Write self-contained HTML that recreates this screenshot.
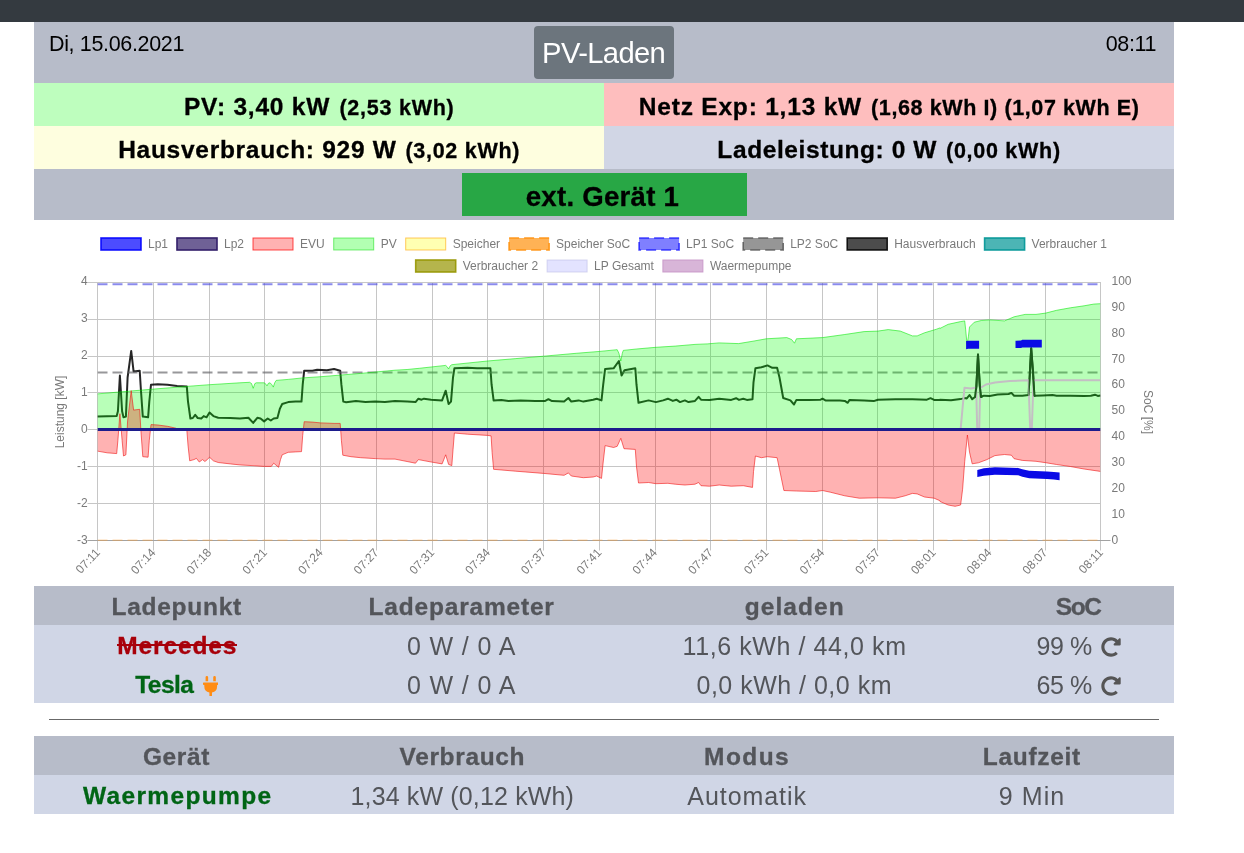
<!DOCTYPE html>
<html lang="de">
<head>
<meta charset="utf-8">
<title>openWB</title>
<style>
html,body{margin:0;padding:0;background:#fff;}
body{width:1244px;height:853px;position:relative;overflow:hidden;font-family:"Liberation Sans",sans-serif;color:#000;}
.abs{position:absolute;}
.band{position:absolute;left:34px;width:1140px;}
#topbar{left:0;top:0;width:1244px;height:22px;background:#343a40;}
.g1{background:#b7bcc9;}
.g2{background:#d0d6e6;}
.t{position:absolute;white-space:pre;line-height:1;}
</style>
</head>
<body>
<div id="topbar" class="abs"></div>
<div class="band g1" style="top:22px;height:61px;"></div>
<div class="abs" style="left:534px;top:26px;width:140px;height:53px;background:#6c757d;border-radius:4px;"></div>
<div class="abs" style="left:34px;top:83px;width:570px;height:43px;background:#befebe;"></div>
<div class="abs" style="left:604px;top:83px;width:570px;height:43px;background:#febebe;"></div>
<div class="abs" style="left:34px;top:126px;width:570px;height:43px;background:#fefedf;"></div>
<div class="abs" style="left:604px;top:126px;width:570px;height:43px;background:#d1d6e5;"></div>
<div class="band g1" style="top:169px;height:51px;"></div>
<div class="abs" style="left:462px;top:173px;width:285px;height:43px;background:#28a745;"></div>
<svg class="abs" style="left:0;top:220px" width="1244" height="366" viewBox="0 220 1244 366" font-family="Liberation Sans, sans-serif" font-size="12" fill="#7a7a7a">
<rect x="101.0" y="238.0" width="40" height="12" fill="rgba(0,0,255,0.7)" stroke="rgba(0,0,255,0.9)" stroke-width="1.6"/>
<text x="148.0" y="248.0">Lp1</text>
<rect x="177.0" y="238.0" width="40" height="12" fill="rgba(50,30,105,0.7)" stroke="rgba(50,30,105,1)" stroke-width="1.6"/>
<text x="224.0" y="248.0">Lp2</text>
<rect x="253.0" y="238.0" width="40" height="12" fill="rgba(255,0,0,0.3)" stroke="rgba(255,0,0,0.7)" stroke-width="1"/>
<text x="300.0" y="248.0">EVU</text>
<rect x="333.7" y="238.0" width="40" height="12" fill="rgba(0,255,0,0.3)" stroke="rgba(0,220,0,0.5)" stroke-width="1"/>
<text x="380.7" y="248.0">PV</text>
<rect x="405.7" y="238.0" width="40" height="12" fill="rgba(255,255,0,0.3)" stroke="rgba(255,165,0,0.6)" stroke-width="1"/>
<text x="452.7" y="248.0">Speicher</text>
<rect x="509.1" y="238.0" width="40" height="12" fill="rgba(255,145,13,0.7)" stroke="rgba(255,145,13,0.9)" stroke-width="1.6" stroke-dasharray="10,5"/>
<text x="556.1" y="248.0">Speicher SoC</text>
<rect x="639.1" y="238.0" width="40" height="12" fill="rgba(0,0,255,0.5)" stroke="rgba(0,0,255,0.7)" stroke-width="1.6" stroke-dasharray="10,5"/>
<text x="686.1" y="248.0">LP1 SoC</text>
<rect x="743.2" y="238.0" width="40" height="12" fill="rgba(80,80,80,0.6)" stroke="rgba(80,80,80,0.8)" stroke-width="1.6" stroke-dasharray="10,5"/>
<text x="790.2" y="248.0">LP2 SoC</text>
<rect x="847.2" y="238.0" width="40" height="12" fill="rgba(0,0,0,0.7)" stroke="rgba(0,0,0,0.85)" stroke-width="1.6"/>
<text x="894.2" y="248.0">Hausverbrauch</text>
<rect x="984.6" y="238.0" width="40" height="12" fill="rgba(0,150,150,0.7)" stroke="rgba(0,150,150,0.9)" stroke-width="1.6"/>
<text x="1031.6" y="248.0">Verbraucher 1</text>
<rect x="415.7" y="260.0" width="40" height="12" fill="rgba(150,150,0,0.7)" stroke="rgba(150,150,0,0.9)" stroke-width="1.6"/>
<text x="462.7" y="270.0">Verbraucher 2</text>
<rect x="547.1" y="260.0" width="40" height="12" fill="rgba(200,200,255,0.5)" stroke="rgba(190,190,230,0.6)" stroke-width="1"/>
<text x="594.1" y="270.0">LP Gesamt</text>
<rect x="662.9" y="260.0" width="40" height="12" fill="rgba(200,150,200,0.7)" stroke="rgba(200,150,200,0.9)" stroke-width="1"/>
<text x="709.9" y="270.0">Waermepumpe</text>
<path d="M97.5,282.0 V550.5 M153.5,282.0 V550.5 M209.5,282.0 V550.5 M264.5,282.0 V550.5 M320.5,282.0 V550.5 M376.5,282.0 V550.5 M432.5,282.0 V550.5 M487.5,282.0 V550.5 M543.5,282.0 V550.5 M599.5,282.0 V550.5 M655.5,282.0 V550.5 M710.5,282.0 V550.5 M766.5,282.0 V550.5 M822.5,282.0 V550.5 M877.5,282.0 V550.5 M933.5,282.0 V550.5 M989.5,282.0 V550.5 M1045.5,282.0 V550.5 M1100.5,282.0 V550.5 M87.5,282.5 H1101.0 M87.5,319.5 H1101.0 M87.5,356.5 H1101.0 M87.5,392.5 H1101.0 M87.5,429.5 H1101.0 M87.5,466.5 H1101.0 M87.5,503.5 H1101.0 M87.5,540.5 H1101.0" stroke="#c6c6c6" stroke-width="1" fill="none"/>
<path d="M87.5,540.5 H1110.5" stroke="#a2a2a2" stroke-width="1" fill="none"/>
<clipPath id="cp"><rect x="97.5" y="281.5" width="1003.0" height="260.0"/></clipPath>
<g clip-path="url(#cp)" fill="none" stroke-linejoin="round">
<path d="M97.4,416.6 L116.7,416.1 L117.9,411.3 L119.9,375.5 L122.1,411.3 L123.5,417.3 L125.9,416.6 L127.6,377.5 L131.2,350.9 L133.6,371.4 L139.7,370.7 L140.9,389.5 L142.8,416.6 L148.1,417.3 L149.3,401.6 L151.0,384.7 L157.8,384.2 L167.5,384.7 L177.1,385.9 L186.8,386.4 L188.0,401.6 L190.4,418.5 L192.8,418.0 L195.2,414.9 L197.7,418.0 L201.3,418.5 L203.7,416.1 L206.6,417.3 L209.5,412.5 L213.4,416.1 L218.2,417.8 L230.3,418.0 L239.9,418.5 L248.4,417.8 L253.2,422.9 L257.3,417.8 L260.5,418.5 L264.1,421.4 L267.7,418.5 L270.8,420.5 L273.7,418.5 L277.4,418.0 L279.8,408.9 L282.2,404.0 L288.2,402.1 L295.5,401.6 L301.5,401.6 L302.7,384.7 L304.2,370.7 L312.4,370.7 L317.2,369.7 L326.9,370.2 L334.1,369.0 L340.2,370.7 L341.4,384.7 L343.3,401.6 L346.2,402.3 L355.9,401.1 L365.5,402.1 L375.2,401.6 L384.9,402.1 L395.0,400.9 L407.1,401.6 L415.5,402.1 L418.4,398.7 L421.6,399.7 L424.0,398.7 L431.2,399.7 L442.1,400.4 L445.7,390.7 L448.6,404.0 L451.0,401.6 L453.0,377.5 L454.4,368.3 L467.5,367.8 L477.1,368.3 L490.4,368.3 L491.6,384.7 L493.6,400.4 L501.3,399.9 L508.5,401.1 L520.6,400.4 L535.1,400.9 L544.8,401.1 L548.4,399.2 L552.0,401.1 L564.1,401.6 L568.4,398.0 L571.3,401.6 L578.6,400.4 L583.4,401.6 L593.1,399.7 L596.7,398.7 L601.5,400.4 L603.2,384.7 L605.1,369.0 L613.6,368.3 L618.9,361.0 L621.6,375.5 L624.5,370.2 L635.3,368.3 L636.5,384.7 L638.5,402.8 L648.6,400.4 L655.9,402.1 L663.1,400.4 L667.9,398.7 L672.8,400.9 L676.4,399.7 L680.0,402.1 L684.9,400.4 L688.5,402.1 L695.0,400.9 L698.6,396.8 L701.0,399.7 L709.5,399.9 L719.2,398.7 L731.2,399.9 L736.1,398.2 L739.0,399.9 L743.3,398.7 L746.9,399.9 L752.5,399.2 L753.5,382.3 L755.4,368.3 L761.4,367.3 L767.5,365.4 L772.3,367.8 L777.1,367.8 L779.5,377.5 L783.2,398.0 L790.4,400.4 L794.0,404.5 L796.4,399.9 L808.5,399.9 L820.6,399.7 L822.5,398.7 L825.4,400.4 L839.9,400.4 L844.8,400.9 L847.7,402.8 L849.6,399.9 L864.1,400.4 L873.7,401.1 L877.9,399.7 L895.5,399.2 L912.4,399.2 L926.9,399.7 L930.5,398.2 L934.1,399.9 L939.9,399.9 L940.0,399.8 L951.0,400.2 L960.6,399.1 L964.7,398.1 L966.8,398.4 L969.5,395.0 L972.2,399.1 L975.0,397.0 L976.4,386.0 L978.0,354.5 L979.8,386.0 L980.9,397.0 L983.9,395.7 L989.7,395.9 L997.6,394.6 L1008.6,394.0 L1011.4,392.9 L1014.1,395.7 L1022.3,395.7 L1028.5,395.0 L1029.9,372.3 L1031.2,348.3 L1033.0,372.3 L1034.4,395.7 L1042.9,395.4 L1052.5,395.0 L1056.6,395.7 L1070.4,395.7 L1084.1,395.9 L1090.9,395.7 L1095.0,394.7 L1097.8,395.9 L1100.5,395.4" stroke="rgba(0,0,0,0.85)" stroke-width="2"/>
<path d="M97.5,372.4 H1100.5" stroke="rgba(95,95,100,0.65)" stroke-width="2" stroke-dasharray="10,5"/>
<path d="M97.5,284.3 H1100.5" stroke="rgba(60,60,225,0.6)" stroke-width="2" stroke-dasharray="10,5"/>
<path d="M97.5,540.2 H1100.5" stroke="rgba(250,160,60,0.4)" stroke-width="1.6" stroke-dasharray="10,5"/>
<path d="M97.4,393.9 L119.2,392.0 L153.5,389.1 L186.8,386.4 L209.5,384.7 L239.9,382.8 L249.6,382.3 L251.5,383.5 L253.2,388.3 L254.9,383.5 L256.4,382.8 L264.1,382.8 L265.5,383.7 L267.0,385.9 L268.4,383.3 L270.1,382.8 L271.8,384.7 L273.3,387.1 L274.7,382.8 L276.2,380.4 L288.2,379.4 L302.7,377.9 L320.8,376.7 L341.4,375.0 L360.7,373.4 L376.6,371.9 L395.0,370.2 L407.1,369.5 L419.2,368.3 L445.7,365.4 L447.2,366.8 L448.6,369.0 L450.1,365.9 L451.8,364.7 L487.5,361.0 L515.8,358.6 L543.6,356.2 L576.2,353.3 L599.8,351.4 L617.2,349.7 L618.9,353.3 L620.8,361.0 L622.3,353.3 L623.3,350.4 L636.5,349.0 L655.9,347.3 L675.2,346.1 L695.0,344.4 L707.1,343.9 L719.2,342.9 L738.5,343.6 L753.0,341.2 L766.3,338.8 L786.8,337.6 L791.6,339.5 L794.5,343.2 L796.4,338.8 L822.5,337.6 L844.8,334.5 L864.1,331.6 L877.9,331.1 L888.2,329.6 L900.3,331.1 L912.4,335.9 L917.2,335.9 L924.5,332.8 L936.5,329.2 L939.9,327.9 L940.0,328.4 L948.2,324.3 L960.6,321.6 L964.7,320.9 L965.7,329.8 L967.0,344.2 L968.4,336.7 L969.5,327.0 L974.3,322.2 L981.2,320.5 L989.7,319.9 L1004.5,320.9 L1014.1,316.8 L1025.1,314.4 L1036.0,314.4 L1045.7,313.1 L1056.6,310.3 L1070.4,307.8 L1084.1,305.8 L1093.7,304.1 L1100.5,303.7 L1100.5,429.5 L97.4,429.5 Z" fill="rgba(0,255,0,0.28)" stroke="none"/>
<path d="M97.4,393.9 L119.2,392.0 L153.5,389.1 L186.8,386.4 L209.5,384.7 L239.9,382.8 L249.6,382.3 L251.5,383.5 L253.2,388.3 L254.9,383.5 L256.4,382.8 L264.1,382.8 L265.5,383.7 L267.0,385.9 L268.4,383.3 L270.1,382.8 L271.8,384.7 L273.3,387.1 L274.7,382.8 L276.2,380.4 L288.2,379.4 L302.7,377.9 L320.8,376.7 L341.4,375.0 L360.7,373.4 L376.6,371.9 L395.0,370.2 L407.1,369.5 L419.2,368.3 L445.7,365.4 L447.2,366.8 L448.6,369.0 L450.1,365.9 L451.8,364.7 L487.5,361.0 L515.8,358.6 L543.6,356.2 L576.2,353.3 L599.8,351.4 L617.2,349.7 L618.9,353.3 L620.8,361.0 L622.3,353.3 L623.3,350.4 L636.5,349.0 L655.9,347.3 L675.2,346.1 L695.0,344.4 L707.1,343.9 L719.2,342.9 L738.5,343.6 L753.0,341.2 L766.3,338.8 L786.8,337.6 L791.6,339.5 L794.5,343.2 L796.4,338.8 L822.5,337.6 L844.8,334.5 L864.1,331.6 L877.9,331.1 L888.2,329.6 L900.3,331.1 L912.4,335.9 L917.2,335.9 L924.5,332.8 L936.5,329.2 L939.9,327.9 L940.0,328.4 L948.2,324.3 L960.6,321.6 L964.7,320.9 L965.7,329.8 L967.0,344.2 L968.4,336.7 L969.5,327.0 L974.3,322.2 L981.2,320.5 L989.7,319.9 L1004.5,320.9 L1014.1,316.8 L1025.1,314.4 L1036.0,314.4 L1045.7,313.1 L1056.6,310.3 L1070.4,307.8 L1084.1,305.8 L1093.7,304.1 L1100.5,303.7" stroke="rgba(0,230,0,0.55)" stroke-width="1"/>
<path d="M97.5,429.5 L960.6,429.5 L963.3,400.0 L964.5,387.7 L971.0,388.5 L976.2,387.5 L977.2,429.5 L979.2,429.5 L980.2,388.0 L986.0,384.5 L995.0,382.5 L1010.0,381.0 L1028.5,380.3 L1030.2,429.5 L1031.8,429.5 L1033.5,380.3 L1100.5,380.3" stroke="#c4bec4" stroke-width="2"/>
<clipPath id="sp"><rect x="975" y="340" width="7.5" height="60"/><rect x="1028.5" y="340" width="7" height="60"/></clipPath>
<path clip-path="url(#sp)" d="M97.4,416.6 L116.7,416.1 L117.9,411.3 L119.9,375.5 L122.1,411.3 L123.5,417.3 L125.9,416.6 L127.6,377.5 L131.2,350.9 L133.6,371.4 L139.7,370.7 L140.9,389.5 L142.8,416.6 L148.1,417.3 L149.3,401.6 L151.0,384.7 L157.8,384.2 L167.5,384.7 L177.1,385.9 L186.8,386.4 L188.0,401.6 L190.4,418.5 L192.8,418.0 L195.2,414.9 L197.7,418.0 L201.3,418.5 L203.7,416.1 L206.6,417.3 L209.5,412.5 L213.4,416.1 L218.2,417.8 L230.3,418.0 L239.9,418.5 L248.4,417.8 L253.2,422.9 L257.3,417.8 L260.5,418.5 L264.1,421.4 L267.7,418.5 L270.8,420.5 L273.7,418.5 L277.4,418.0 L279.8,408.9 L282.2,404.0 L288.2,402.1 L295.5,401.6 L301.5,401.6 L302.7,384.7 L304.2,370.7 L312.4,370.7 L317.2,369.7 L326.9,370.2 L334.1,369.0 L340.2,370.7 L341.4,384.7 L343.3,401.6 L346.2,402.3 L355.9,401.1 L365.5,402.1 L375.2,401.6 L384.9,402.1 L395.0,400.9 L407.1,401.6 L415.5,402.1 L418.4,398.7 L421.6,399.7 L424.0,398.7 L431.2,399.7 L442.1,400.4 L445.7,390.7 L448.6,404.0 L451.0,401.6 L453.0,377.5 L454.4,368.3 L467.5,367.8 L477.1,368.3 L490.4,368.3 L491.6,384.7 L493.6,400.4 L501.3,399.9 L508.5,401.1 L520.6,400.4 L535.1,400.9 L544.8,401.1 L548.4,399.2 L552.0,401.1 L564.1,401.6 L568.4,398.0 L571.3,401.6 L578.6,400.4 L583.4,401.6 L593.1,399.7 L596.7,398.7 L601.5,400.4 L603.2,384.7 L605.1,369.0 L613.6,368.3 L618.9,361.0 L621.6,375.5 L624.5,370.2 L635.3,368.3 L636.5,384.7 L638.5,402.8 L648.6,400.4 L655.9,402.1 L663.1,400.4 L667.9,398.7 L672.8,400.9 L676.4,399.7 L680.0,402.1 L684.9,400.4 L688.5,402.1 L695.0,400.9 L698.6,396.8 L701.0,399.7 L709.5,399.9 L719.2,398.7 L731.2,399.9 L736.1,398.2 L739.0,399.9 L743.3,398.7 L746.9,399.9 L752.5,399.2 L753.5,382.3 L755.4,368.3 L761.4,367.3 L767.5,365.4 L772.3,367.8 L777.1,367.8 L779.5,377.5 L783.2,398.0 L790.4,400.4 L794.0,404.5 L796.4,399.9 L808.5,399.9 L820.6,399.7 L822.5,398.7 L825.4,400.4 L839.9,400.4 L844.8,400.9 L847.7,402.8 L849.6,399.9 L864.1,400.4 L873.7,401.1 L877.9,399.7 L895.5,399.2 L912.4,399.2 L926.9,399.7 L930.5,398.2 L934.1,399.9 L939.9,399.9 L940.0,399.8 L951.0,400.2 L960.6,399.1 L964.7,398.1 L966.8,398.4 L969.5,395.0 L972.2,399.1 L975.0,397.0 L976.4,386.0 L978.0,354.5 L979.8,386.0 L980.9,397.0 L983.9,395.7 L989.7,395.9 L997.6,394.6 L1008.6,394.0 L1011.4,392.9 L1014.1,395.7 L1022.3,395.7 L1028.5,395.0 L1029.9,372.3 L1031.2,348.3 L1033.0,372.3 L1034.4,395.7 L1042.9,395.4 L1052.5,395.0 L1056.6,395.7 L1070.4,395.7 L1084.1,395.9 L1090.9,395.7 L1095.0,394.7 L1097.8,395.9 L1100.5,395.4" stroke="#1c5c1c" stroke-width="2"/>
<path d="M97.4,451.1 L107.1,452.8 L116.7,453.6 L117.9,440.3 L119.9,413.7 L122.1,440.3 L123.5,456.0 L125.9,454.8 L127.6,420.9 L131.2,390.7 L133.6,410.1 L139.7,409.3 L140.9,430.6 L142.8,456.7 L148.1,457.2 L149.3,440.3 L151.0,424.6 L157.8,425.0 L167.5,426.3 L175.9,428.2 L178.3,429.4 L186.8,429.6 L188.0,445.1 L189.7,460.8 L194.0,459.6 L196.4,458.4 L199.3,462.0 L202.5,459.6 L204.9,461.5 L207.3,459.6 L209.5,457.2 L213.4,460.8 L218.2,462.5 L230.3,463.9 L239.9,464.9 L252.0,465.6 L264.1,466.4 L271.3,466.4 L273.7,463.2 L278.6,467.3 L280.5,459.6 L282.2,454.8 L288.2,452.3 L295.5,451.9 L301.5,451.6 L302.7,435.4 L304.2,421.7 L312.4,422.1 L320.8,422.9 L334.1,423.4 L340.2,423.4 L341.4,440.3 L342.8,455.2 L351.0,456.7 L360.7,457.7 L375.2,458.6 L384.9,459.1 L395.0,459.1 L407.1,461.5 L415.5,463.2 L418.4,459.6 L431.2,462.0 L442.1,463.9 L445.7,454.8 L448.6,464.4 L451.8,465.6 L453.0,449.9 L454.4,433.0 L467.5,434.2 L487.5,435.4 L491.1,435.9 L492.1,452.3 L493.6,469.3 L515.8,471.2 L543.6,473.4 L564.1,475.3 L568.4,472.9 L571.3,476.0 L583.4,477.7 L593.1,477.0 L596.7,476.0 L601.5,478.4 L603.2,462.0 L605.1,445.6 L613.6,447.5 L617.2,446.3 L620.8,438.3 L624.0,448.7 L635.3,449.4 L636.5,466.8 L638.5,483.0 L648.6,482.5 L655.9,483.7 L667.9,483.3 L675.2,484.2 L684.9,485.0 L695.0,484.2 L698.6,482.5 L701.0,485.7 L709.5,486.2 L719.2,485.0 L731.2,486.2 L743.3,485.7 L752.5,487.4 L753.5,471.7 L755.4,456.0 L761.4,457.7 L767.5,456.7 L777.1,457.7 L779.5,469.3 L783.9,490.5 L796.4,491.0 L815.8,491.5 L822.5,490.5 L830.3,492.2 L844.8,495.8 L859.3,498.2 L877.9,497.8 L895.5,498.2 L905.1,495.8 L912.4,493.4 L917.2,493.9 L924.5,497.0 L934.1,498.2 L939.9,500.7 L940.0,501.5 L948.2,505.0 L955.1,506.3 L960.6,505.0 L962.6,489.2 L964.7,461.7 L967.4,435.0 L969.5,452.1 L972.2,463.8 L978.4,462.8 L986.7,459.7 L994.9,455.6 L1004.5,454.5 L1011.4,455.2 L1014.1,458.7 L1022.3,460.4 L1036.0,461.3 L1045.7,462.7 L1056.6,464.5 L1070.4,466.5 L1084.1,469.0 L1100.5,471.4 L1100.5,429.5 L97.4,429.5 Z" fill="rgba(255,0,0,0.3)" stroke="none"/>
<path d="M97.4,451.1 L107.1,452.8 L116.7,453.6 L117.9,440.3 L119.9,413.7 L122.1,440.3 L123.5,456.0 L125.9,454.8 L127.6,420.9 L131.2,390.7 L133.6,410.1 L139.7,409.3 L140.9,430.6 L142.8,456.7 L148.1,457.2 L149.3,440.3 L151.0,424.6 L157.8,425.0 L167.5,426.3 L175.9,428.2 L178.3,429.4 L186.8,429.6 L188.0,445.1 L189.7,460.8 L194.0,459.6 L196.4,458.4 L199.3,462.0 L202.5,459.6 L204.9,461.5 L207.3,459.6 L209.5,457.2 L213.4,460.8 L218.2,462.5 L230.3,463.9 L239.9,464.9 L252.0,465.6 L264.1,466.4 L271.3,466.4 L273.7,463.2 L278.6,467.3 L280.5,459.6 L282.2,454.8 L288.2,452.3 L295.5,451.9 L301.5,451.6 L302.7,435.4 L304.2,421.7 L312.4,422.1 L320.8,422.9 L334.1,423.4 L340.2,423.4 L341.4,440.3 L342.8,455.2 L351.0,456.7 L360.7,457.7 L375.2,458.6 L384.9,459.1 L395.0,459.1 L407.1,461.5 L415.5,463.2 L418.4,459.6 L431.2,462.0 L442.1,463.9 L445.7,454.8 L448.6,464.4 L451.8,465.6 L453.0,449.9 L454.4,433.0 L467.5,434.2 L487.5,435.4 L491.1,435.9 L492.1,452.3 L493.6,469.3 L515.8,471.2 L543.6,473.4 L564.1,475.3 L568.4,472.9 L571.3,476.0 L583.4,477.7 L593.1,477.0 L596.7,476.0 L601.5,478.4 L603.2,462.0 L605.1,445.6 L613.6,447.5 L617.2,446.3 L620.8,438.3 L624.0,448.7 L635.3,449.4 L636.5,466.8 L638.5,483.0 L648.6,482.5 L655.9,483.7 L667.9,483.3 L675.2,484.2 L684.9,485.0 L695.0,484.2 L698.6,482.5 L701.0,485.7 L709.5,486.2 L719.2,485.0 L731.2,486.2 L743.3,485.7 L752.5,487.4 L753.5,471.7 L755.4,456.0 L761.4,457.7 L767.5,456.7 L777.1,457.7 L779.5,469.3 L783.9,490.5 L796.4,491.0 L815.8,491.5 L822.5,490.5 L830.3,492.2 L844.8,495.8 L859.3,498.2 L877.9,497.8 L895.5,498.2 L905.1,495.8 L912.4,493.4 L917.2,493.9 L924.5,497.0 L934.1,498.2 L939.9,500.7 L940.0,501.5 L948.2,505.0 L955.1,506.3 L960.6,505.0 L962.6,489.2 L964.7,461.7 L967.4,435.0 L969.5,452.1 L972.2,463.8 L978.4,462.8 L986.7,459.7 L994.9,455.6 L1004.5,454.5 L1011.4,455.2 L1014.1,458.7 L1022.3,460.4 L1036.0,461.3 L1045.7,462.7 L1056.6,464.5 L1070.4,466.5 L1084.1,469.0 L1100.5,471.4" stroke="rgba(240,20,20,0.6)" stroke-width="1"/>
<path d="M97.5,429.5 H1100.5" stroke="#1c1c8c" stroke-width="3"/>
<path d="M966.1,341.0 L968.1,340.8 L979.1,340.8 L979.1,348.7 L968.1,348.7 L966.1,349.3 Z" fill="#0a0ae6" stroke="none"/>
<path d="M1015.5,340.8 L1021.0,340.5 L1022.3,339.7 L1041.8,339.7 L1041.8,347.6 L1022.3,347.6 L1021.0,347.9 L1015.5,347.9 Z" fill="#0a0ae6" stroke="none"/>
<path d="M977.3,470.0 L983.9,468.2 L994.9,467.2 L1018.2,467.9 L1022.3,469.3 L1029.2,470.7 L1047.0,471.4 L1053.9,472.0 L1059.6,472.4 L1059.6,480.3 L1053.9,479.6 L1047.0,478.9 L1029.2,478.2 L1022.3,476.8 L1018.2,475.2 L994.9,474.8 L983.9,475.7 L977.3,477.1 Z" fill="#0a0ae6" stroke="none"/>
</g>
<text x="87.6" y="285.1" text-anchor="end">4</text>
<text x="87.6" y="322.0" text-anchor="end">3</text>
<text x="87.6" y="359.0" text-anchor="end">2</text>
<text x="87.6" y="395.9" text-anchor="end">1</text>
<text x="87.6" y="432.9" text-anchor="end">0</text>
<text x="87.6" y="469.8" text-anchor="end">-1</text>
<text x="87.6" y="506.8" text-anchor="end">-2</text>
<text x="87.6" y="543.7" text-anchor="end">-3</text>
<text x="1111.5" y="284.8">100</text>
<text x="1111.5" y="310.7">90</text>
<text x="1111.5" y="336.6">80</text>
<text x="1111.5" y="362.5">70</text>
<text x="1111.5" y="388.4">60</text>
<text x="1111.5" y="414.2">50</text>
<text x="1111.5" y="440.1">40</text>
<text x="1111.5" y="466.0">30</text>
<text x="1111.5" y="491.9">20</text>
<text x="1111.5" y="517.8">10</text>
<text x="1111.5" y="543.7">0</text>
<text transform="translate(97.8,550.3) rotate(-47)" text-anchor="end" y="4">07:11</text>
<text transform="translate(153.5,550.3) rotate(-47)" text-anchor="end" y="4">07:14</text>
<text transform="translate(209.2,550.3) rotate(-47)" text-anchor="end" y="4">07:18</text>
<text transform="translate(265.0,550.3) rotate(-47)" text-anchor="end" y="4">07:21</text>
<text transform="translate(320.7,550.3) rotate(-47)" text-anchor="end" y="4">07:24</text>
<text transform="translate(376.4,550.3) rotate(-47)" text-anchor="end" y="4">07:27</text>
<text transform="translate(432.1,550.3) rotate(-47)" text-anchor="end" y="4">07:31</text>
<text transform="translate(487.9,550.3) rotate(-47)" text-anchor="end" y="4">07:34</text>
<text transform="translate(543.6,550.3) rotate(-47)" text-anchor="end" y="4">07:37</text>
<text transform="translate(599.3,550.3) rotate(-47)" text-anchor="end" y="4">07:41</text>
<text transform="translate(655.0,550.3) rotate(-47)" text-anchor="end" y="4">07:44</text>
<text transform="translate(710.7,550.3) rotate(-47)" text-anchor="end" y="4">07:47</text>
<text transform="translate(766.5,550.3) rotate(-47)" text-anchor="end" y="4">07:51</text>
<text transform="translate(822.2,550.3) rotate(-47)" text-anchor="end" y="4">07:54</text>
<text transform="translate(877.9,550.3) rotate(-47)" text-anchor="end" y="4">07:57</text>
<text transform="translate(933.6,550.3) rotate(-47)" text-anchor="end" y="4">08:01</text>
<text transform="translate(989.4,550.3) rotate(-47)" text-anchor="end" y="4">08:04</text>
<text transform="translate(1045.1,550.3) rotate(-47)" text-anchor="end" y="4">08:07</text>
<text transform="translate(1100.8,550.3) rotate(-47)" text-anchor="end" y="4">08:11</text>
<text transform="translate(64,412) rotate(-90)" text-anchor="middle">Leistung [kW]</text>
<text transform="translate(1144,412) rotate(90)" text-anchor="middle">SoC [%]</text>
</svg>
<div class="band g1" style="top:586px;height:39px;"></div>
<div class="band g2" style="top:625px;height:78px;"></div>
<div class="abs" style="left:49px;top:719px;width:1110px;height:1px;background:#686868;"></div>
<div class="band g1" style="top:736px;height:39px;"></div>
<div class="band g2" style="top:775px;height:39px;"></div>
<span class="t" id="date" style="left:49.00px;top:33.80px;font-size:21.5px;font-weight:400;color:#000;letter-spacing:-0.345px;">Di, 15.06.2021</span>
<span class="t" id="time" style="left:1105.71px;top:33.80px;font-size:21.5px;font-weight:400;color:#000;letter-spacing:-0.350px;">08:11</span>
<span class="t" id="btnt" style="left:542.11px;top:39.28px;font-size:29.2px;font-weight:400;color:#fff;letter-spacing:-0.639px;">PV-Laden</span>
<span class="t" id="pv1" style="left:184.00px;top:95.26px;font-size:24.5px;font-weight:700;color:#000;letter-spacing:0.779px;-webkit-text-stroke:0.3px;">PV: 3,40 kW</span>
<span class="t" id="pv2" style="left:339.40px;top:97.80px;font-size:21.5px;font-weight:700;color:#000;letter-spacing:0.761px;-webkit-text-stroke:0.3px;">(2,53 kWh)</span>
<span class="t" id="ev1" style="left:638.82px;top:95.26px;font-size:24.5px;font-weight:700;color:#000;letter-spacing:0.794px;-webkit-text-stroke:0.3px;">Netz Exp: 1,13 kW</span>
<span class="t" id="ev2" style="left:871.10px;top:97.80px;font-size:21.5px;font-weight:700;color:#000;letter-spacing:0.607px;-webkit-text-stroke:0.3px;">(1,68 kWh I) (1,07 kWh E)</span>
<span class="t" id="hv1" style="left:118.20px;top:138.26px;font-size:24.5px;font-weight:700;color:#000;letter-spacing:0.714px;-webkit-text-stroke:0.3px;">Hausverbrauch: 929 W</span>
<span class="t" id="hv2" style="left:405.40px;top:140.80px;font-size:21.5px;font-weight:700;color:#000;letter-spacing:0.728px;-webkit-text-stroke:0.3px;">(3,02 kWh)</span>
<span class="t" id="ll1" style="left:717.36px;top:138.26px;font-size:24.5px;font-weight:700;color:#000;letter-spacing:0.590px;-webkit-text-stroke:0.3px;">Ladeleistung: 0 W</span>
<span class="t" id="ll2" style="left:945.99px;top:140.80px;font-size:21.5px;font-weight:700;color:#000;letter-spacing:0.732px;-webkit-text-stroke:0.3px;">(0,00 kWh)</span>
<span class="t" id="extt" style="left:525.77px;top:182.64px;font-size:27.6px;font-weight:700;color:#000;letter-spacing:0.260px;-webkit-text-stroke:0.3px;">ext. Gerät 1</span>
<span class="t" id="h11" style="left:111.51px;top:595.26px;font-size:24.5px;font-weight:700;color:#53555a;letter-spacing:0.727px;-webkit-text-stroke:0.3px;">Ladepunkt</span>
<span class="t" id="h12" style="left:368.51px;top:595.26px;font-size:24.5px;font-weight:700;color:#53555a;letter-spacing:0.811px;-webkit-text-stroke:0.3px;">Ladeparameter</span>
<span class="t" id="h13" style="left:744.65px;top:595.26px;font-size:24.5px;font-weight:700;color:#53555a;letter-spacing:1.078px;-webkit-text-stroke:0.3px;">geladen</span>
<span class="t" id="h14" style="left:1055.66px;top:595.26px;font-size:24.5px;font-weight:700;color:#53555a;letter-spacing:-1.358px;-webkit-text-stroke:0.3px;">SoC</span>
<span class="t" id="r11" style="left:117.37px;top:634.26px;font-size:24.5px;font-weight:700;color:#a8000a;letter-spacing:0.841px;-webkit-text-stroke:0.3px;">Mercedes</span>
<span class="t" id="r12" style="left:406.88px;top:633.84px;font-size:25px;font-weight:400;color:#53555a;letter-spacing:0.896px;">0 W / 0 A</span>
<span class="t" id="r13" style="left:682.60px;top:633.84px;font-size:25px;font-weight:400;color:#53555a;letter-spacing:0.583px;">11,6 kWh / 44,0 km</span>
<span class="t" id="r14" style="left:1036.47px;top:633.84px;font-size:25px;font-weight:400;color:#53555a;letter-spacing:-0.400px;">99 %</span>
<span class="t" id="r21" style="left:135.16px;top:673.26px;font-size:24.5px;font-weight:700;color:#006515;letter-spacing:-0.507px;-webkit-text-stroke:0.3px;">Tesla</span>
<span class="t" id="r22" style="left:406.88px;top:672.84px;font-size:25px;font-weight:400;color:#53555a;letter-spacing:0.896px;">0 W / 0 A</span>
<span class="t" id="r23" style="left:696.50px;top:672.84px;font-size:25px;font-weight:400;color:#53555a;letter-spacing:0.493px;">0,0 kWh / 0,0 km</span>
<span class="t" id="r24" style="left:1036.38px;top:672.84px;font-size:25px;font-weight:400;color:#53555a;letter-spacing:-0.371px;">65 %</span>
<span class="t" id="h21" style="left:142.90px;top:745.26px;font-size:24.5px;font-weight:700;color:#53555a;letter-spacing:0.599px;-webkit-text-stroke:0.3px;">Gerät</span>
<span class="t" id="h22" style="left:399.50px;top:745.26px;font-size:24.5px;font-weight:700;color:#53555a;letter-spacing:0.652px;-webkit-text-stroke:0.3px;">Verbrauch</span>
<span class="t" id="h23" style="left:704.11px;top:745.26px;font-size:24.5px;font-weight:700;color:#53555a;letter-spacing:1.408px;-webkit-text-stroke:0.3px;">Modus</span>
<span class="t" id="h24" style="left:982.81px;top:745.26px;font-size:24.5px;font-weight:700;color:#53555a;letter-spacing:0.690px;-webkit-text-stroke:0.3px;">Laufzeit</span>
<span class="t" id="d21" style="left:82.91px;top:784.26px;font-size:24.5px;font-weight:700;color:#006515;letter-spacing:1.357px;-webkit-text-stroke:0.3px;">Waermepumpe</span>
<span class="t" id="d22" style="left:350.49px;top:783.84px;font-size:25px;font-weight:400;color:#53555a;letter-spacing:0.150px;">1,34 kW (0,12 kWh)</span>
<span class="t" id="d23" style="left:687.29px;top:783.84px;font-size:25px;font-weight:400;color:#53555a;letter-spacing:0.944px;">Automatik</span>
<span class="t" id="d24" style="left:998.69px;top:783.84px;font-size:25px;font-weight:400;color:#53555a;letter-spacing:1.098px;">9 Min</span>
<div class="abs" id="strike" style="left:117px;top:644px;width:119.5px;height:2px;background:#a8000a;"></div>
<svg class="abs" style="left:202.8px;top:675.9px" width="15.4" height="20.5" viewBox="0 0 384 512"><path fill="#ff8c14" d="M320,32a32,32,0,0,0-64,0v96h64Zm48,128H16A16,16,0,0,0,0,176v32a16,16,0,0,0,16,16H32v32A160.07,160.07,0,0,0,160,412.8V512h64V412.8A160.07,160.07,0,0,0,352,256V224h16a16,16,0,0,0,16-16V176A16,16,0,0,0,368,160ZM128,32a32,32,0,0,0-64,0v96h64Z"/></svg>
<svg class="abs" style="left:1101.2px;top:637px" width="20" height="20" viewBox="0 0 512 512"><path fill="#555" d="M256.455 8c66.269.119 126.437 26.233 170.859 68.685l35.715-35.715C478.149 25.851 504 36.559 504 57.941V192c0 13.255-10.745 24-24 24H345.941c-21.382 0-32.09-25.851-16.971-40.971l41.75-41.75c-30.864-28.899-70.801-44.907-113.23-45.273-92.398-.798-170.283 73.977-169.484 169.442C88.764 348.009 162.184 424 256 424c41.127 0 79.997-14.678 110.629-41.556 4.743-4.161 11.906-3.908 16.368.553l39.662 39.662c4.872 4.872 4.631 12.815-.482 17.433C378.202 479.813 319.926 504 256 504 119.034 504 8.001 392.967 8 256.002 7.999 119.193 119.646 7.755 256.455 8z"/></svg>
<svg class="abs" style="left:1101.2px;top:676px" width="20" height="20" viewBox="0 0 512 512"><path fill="#555" d="M256.455 8c66.269.119 126.437 26.233 170.859 68.685l35.715-35.715C478.149 25.851 504 36.559 504 57.941V192c0 13.255-10.745 24-24 24H345.941c-21.382 0-32.09-25.851-16.971-40.971l41.750-41.750c-30.864-28.899-70.801-44.907-113.230-45.273-92.398-.798-170.283 73.977-169.484 169.442C88.764 348.009 162.184 424 256 424c41.127 0 79.997-14.678 110.629-41.556 4.743-4.161 11.906-3.908 16.368.553l39.662 39.662c4.872 4.872 4.631 12.815-.482 17.433C378.202 479.813 319.926 504 256 504 119.034 504 8.001 392.967 8 256.002 7.999 119.193 119.646 7.755 256.455 8z"/></svg>

</body>
</html>
